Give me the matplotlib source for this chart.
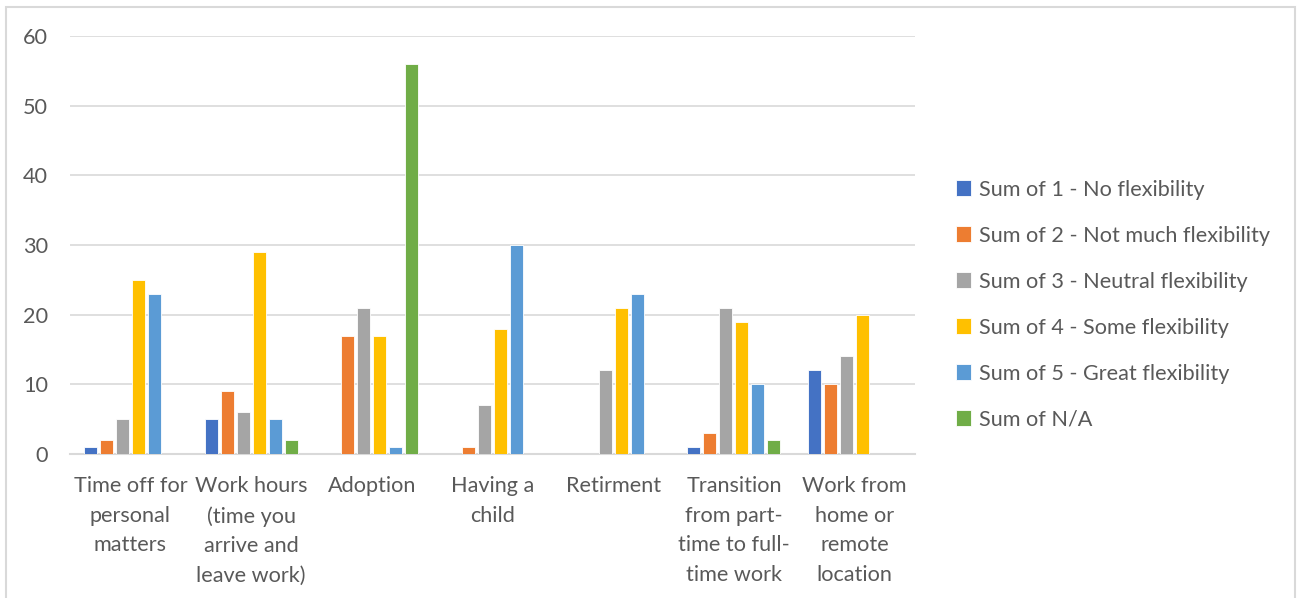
import matplotlib.pyplot as plt
import numpy as np
from matplotlib.patches import Rectangle

plt.rcParams['font.family'] = ['Lato', 'DejaVu Sans']

categories = ['Time off for\npersonal\nmatters', 'Work hours\n(time you\narrive and\nleave work)',
              'Adoption', 'Having a\nchild', 'Retirment', 'Transition\nfrom part-\ntime to full-\ntime work',
              'Work from\nhome or\nremote\nlocation']
series_names = ['Sum of 1 - No flexibility', 'Sum of 2 - Not much flexibility',
                'Sum of 3 - Neutral flexibility', 'Sum of 4 - Some flexibility',
                'Sum of 5 - Great flexibility', 'Sum of N/A']
no_flex = [1, 5, 0, 0, 0, 1, 12]
not_much = [2, 9, 17, 1, 0, 3, 10]
neutral = [5, 6, 21, 7, 12, 21, 14]
some = [25, 29, 17, 18, 21, 19, 20]
great = [23, 5, 1, 30, 23, 10, 0]
na = [0, 2, 56, 0, 0, 2, 0]
colors = ['#4472C4', '#ED7D31', '#A5A5A5', '#FFC000', '#5B9BD5', '#70AD47']

txt = '#595959'
grid = '#D9D9D9'
fs = 15.6

fig = plt.figure(figsize=(12.97, 5.98), dpi=100)
ax = fig.add_axes([70/1297, 1 - 454/598, 845/1297, 418/598])

x = np.arange(len(categories))
step = 0.1326
width = 0.108
for i, (vals, name, c) in enumerate(zip([no_flex, not_much, neutral, some, great, na], series_names, colors)):
    ax.bar(x + (i - 2.5) * step, vals, width, color=c, label=name,
           edgecolor='white', linewidth=0.6, zorder=3)

ax.set_xlim(-0.5, len(categories) - 0.5)
ax.set_ylim(0, 60)
ax.set_yticks(range(0, 61, 10))
ax.yaxis.grid(True, color=grid, linewidth=1.2, zorder=0)
for s in ['top', 'right', 'left']:
    ax.spines[s].set_visible(False)
ax.spines['bottom'].set_color(grid)
ax.spines['bottom'].set_linewidth(1.5)
ax.tick_params(axis='both', length=0, labelsize=fs, labelcolor=txt)
ax.tick_params(axis='y', pad=16)
ax.tick_params(axis='x', pad=16)
ax.set_xticks(x)
ax.set_xticklabels(categories, linespacing=1.6, va='top')

fig.legend(loc='center left', bbox_to_anchor=(945/1297, 1 - 304.5/598), frameon=False,
           fontsize=fs, labelcolor=txt, handlelength=0.7, handleheight=0.7,
           handletextpad=0.35, labelspacing=1.2, borderpad=0)

# outer chart frame
fig.patches.append(Rectangle((6/1297, -0.05), 1289/1297, 1.05 - 7/598, transform=fig.transFigure,
                             fill=False, edgecolor=grid, linewidth=1.5))

fig.savefig('out.png', dpi=100)
